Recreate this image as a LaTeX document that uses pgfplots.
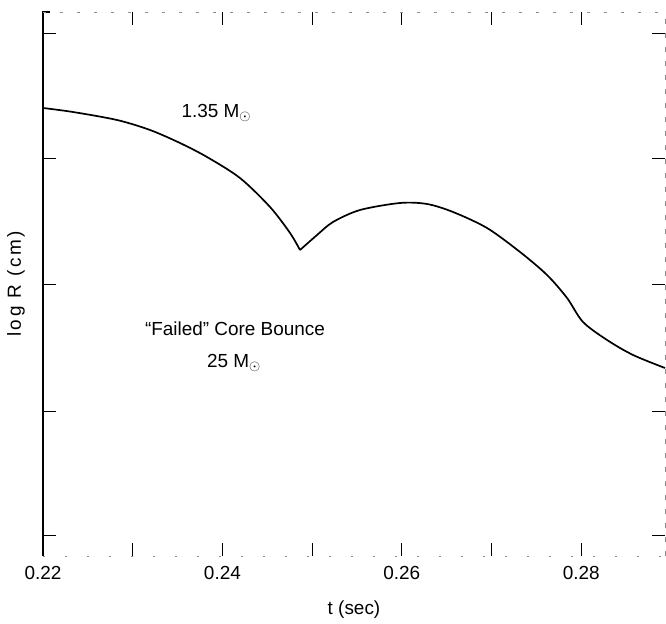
\documentclass[border=0pt]{standalone}
\usepackage{pgfplots}
\pgfplotsset{compat=1.18}
\usepackage{fontspec}
\setmainfont{Liberation Sans}
\newfontfamily\ylfont[LetterSpace=14]{Liberation Sans}
\newcommand{\fs}{\fontsize{19}{22}\selectfont}
\begin{document}
\begin{tikzpicture}
\begin{axis}[
  name=ax,
  scale only axis,
  width=622bp, height=544bp,
  xmin=0.22, xmax=0.28934,
  ymin=0, ymax=544,
  axis line style={draw=none},
  xtick={0.22,0.23,0.24,0.25,0.26,0.27,0.28},
  xticklabels={0.22,,0.24,,0.26,,0.28},
  ytick={21,145,272,398,523},
  yticklabels={},
  tick align=inside,
  major tick length=13bp,
  tick style={black, line width=0.9bp},
  xticklabel style={font=\fs, yshift=-7bp},
  /pgf/number format/assume math mode=true,
  xlabel={t (sec)},
  ylabel={\ylfont log R (cm)},
  xlabel style={font=\fs, at={(axis description cs:0.5,-0.0993)}, anchor=center},
  ylabel style={font=\fs, at={(axis description cs:-0.0434,0.5)}, anchor=center},
  clip=false,
]
\draw[line width=1.6bp] (axis description cs:0,0) -- (axis description cs:0,1) -- (axis description cs:0.012,1);
\draw[black!45, line width=0.8bp, dash pattern=on 5bp off 9bp] (axis description cs:1,0) -- (axis description cs:1,1);
\draw[black!45, line width=0.8bp, dash pattern=on 3bp off 14bp] (axis description cs:0,1) -- (axis description cs:1,1);
\draw[black!45, line width=0.8bp, dash pattern=on 2bp off 20bp] (axis description cs:0,0) -- (axis description cs:1,0);
\addplot[black, line width=1.7bp, smooth, tension=0.5] coordinates {
(0.22000,448) (0.22334,444) (0.22825,436) (0.23193,426) (0.23527,413)
(0.23828,399) (0.24196,378) (0.24531,349) (0.24754,323) (0.24865,306)
};
\addplot[black, line width=1.7bp, smooth, tension=0.5] coordinates {
(0.24865,306)
(0.25055,321) (0.25233,334) (0.25534,346) (0.25980,353) (0.26281,352)
(0.26571,344) (0.26950,328) (0.27318,304) (0.27619,281) (0.27842,258)
(0.28020,234) (0.28288,216) (0.28578,201) (0.28934,188)
};
\node[font=\fs, anchor=west] at (axis cs:0.23505,443) {1.35 M$_\odot$};
\node[font=\fs, anchor=center] at (axis cs:0.24140,227) {``Failed'' Core Bounce};
\node[font=\fs, anchor=center] at (axis cs:0.24129,193) {25 M$_\odot$};
\end{axis}
\pgfresetboundingbox
\path[use as bounding box] ([shift={(-43bp,-68bp)}]ax.south west) rectangle ([shift={(1bp,12bp)}]ax.north east);
\end{tikzpicture}
\end{document}
